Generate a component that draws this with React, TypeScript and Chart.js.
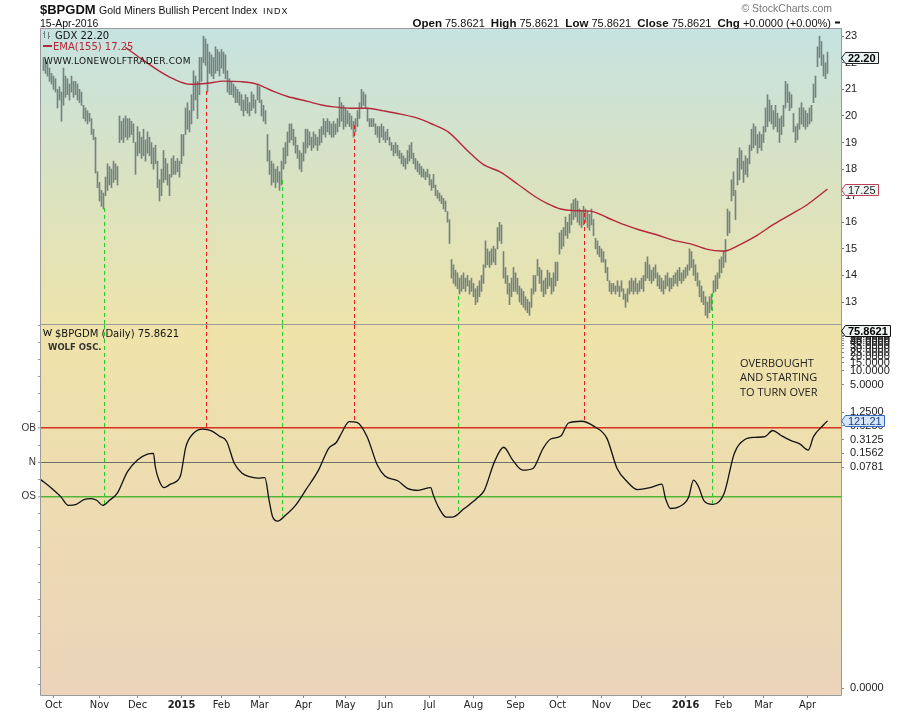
import React, { useEffect, useRef } from "react";
import { Chart, registerables } from "chart.js";

Chart.register(...registerables);

const SANS = "'Liberation Sans', Arial, Helvetica, sans-serif";
const VERD = "'DejaVu Sans', Verdana, sans-serif";
const NARROW = "'Liberation Sans Narrow', 'DejaVu Sans Condensed', 'Liberation Sans', sans-serif";

// ---------- calendar ----------
const FIRST_DAY = "2014-09-24";
const LAST_DAY = "2016-04-15";
const HOLIDAYS = [
  "2014-11-27", "2014-12-25", "2015-01-01", "2015-01-19", "2015-02-16", "2015-04-03",
  "2015-05-25", "2015-07-03", "2015-09-07", "2015-11-26", "2015-12-25", "2016-01-01",
  "2016-01-18", "2016-02-15", "2016-03-25",
];
const MONTH_NAMES = ["Jan", "Feb", "Mar", "Apr", "May", "Jun", "Jul", "Aug", "Sep", "Oct", "Nov", "Dec"];

// ---------- GDX daily bars (low / high) ----------
const gdxLow = [
  21.7, 21.6, 21.5, 21.3, 21.2, 21.0, 20.9, 20.3, 20.6, 19.8,
  20.4, 20.7, 20.8, 20.6, 20.9, 20.7, 20.8, 20.6, 20.5, 20.4,
  19.9, 19.8, 19.7, 19.8, 19.3, 19.1, 17.85, 17.3, 16.8, 16.6,
  16.5, 17.0, 17.2, 17.4, 17.3, 17.5, 17.6, 17.4, 19.0, 19.1,
  19.0, 19.2, 19.1, 19.2, 19.3, 19.0, 17.8, 18.5, 18.6, 18.4,
  18.5, 18.3, 18.6, 18.5, 18.2, 18.0, 18.2, 17.3, 16.8, 17.0,
  17.5, 17.6, 17.4, 17.0, 17.7, 17.8, 17.8, 17.9, 17.7, 18.2,
  18.5, 19.3, 19.5, 19.4, 19.7, 20.2, 20.6, 19.9, 20.8, 21.3,
  22.0, 21.9, 20.9, 21.6, 21.5, 21.4, 21.6, 21.7, 21.5, 21.8,
  21.6, 21.4, 20.9, 20.8, 20.8, 20.7, 20.5, 20.5, 20.4, 20.2,
  20.0, 20.2, 20.1, 20.0, 20.2, 20.3, 20.1, 20.6, 20.5, 20.0,
  19.8, 19.7, 18.3, 17.8, 17.4, 17.5, 17.3, 17.5, 17.2, 17.4,
  18.0, 18.2, 18.5, 19.0, 19.1, 18.9, 18.6, 18.4, 18.0, 17.9,
  18.3, 18.6, 18.8, 18.9, 18.7, 18.8, 18.9, 18.7, 18.9, 19.0,
  19.3, 19.2, 19.4, 19.3, 19.2, 19.2, 19.3, 19.4, 19.6, 19.8,
  19.5, 19.6, 19.7, 19.6, 19.5, 19.2, 19.4, 19.6, 19.9, 20.3,
  20.4, 20.3, 19.8, 19.6, 19.6, 19.6, 19.3, 19.2, 19.0, 19.2,
  19.1, 19.0, 19.1, 18.9, 18.7, 18.5, 18.6, 18.5, 18.4, 18.2,
  18.1, 18.0, 18.2, 18.3, 18.4, 18.2, 18.0, 17.9, 17.8, 17.7,
  17.7, 17.6, 17.7, 17.4, 17.2, 17.3, 17.0, 16.9, 16.8, 16.7,
  16.5, 16.4, 16.0, 15.2, 13.9, 13.7, 13.6, 13.5, 13.3, 13.4,
  13.5, 13.4, 13.6, 13.3, 13.4, 13.2, 12.9, 13.0, 13.2, 13.4,
  13.7, 14.3, 14.4, 14.3, 14.4, 14.5, 14.4, 15.0, 15.3, 15.2,
  13.9, 13.7, 13.3, 12.9, 13.2, 13.4, 13.4, 13.3, 13.0, 12.9,
  12.8, 12.7, 12.6, 12.5, 12.8, 13.3, 13.4, 14.0, 13.7, 13.4,
  13.2, 13.3, 13.5, 13.6, 13.3, 13.4, 13.6, 13.8, 14.8, 15.0,
  15.1, 15.5, 15.4, 15.6, 15.9, 16.1, 16.2, 16.0, 15.9, 15.8,
  15.9, 16.0, 15.8, 15.7, 15.9, 15.5, 15.0, 14.8, 14.7, 14.5,
  14.5, 14.1, 13.8, 13.4, 13.3, 13.4, 13.3, 13.4, 13.2, 13.4,
  13.1, 12.8, 13.0, 13.3, 13.4, 13.3, 13.4, 13.3, 13.4, 13.5,
  13.4, 13.8, 13.9, 13.8, 13.7, 13.8, 13.9, 13.6, 13.5, 13.4,
  13.3, 13.5, 13.6, 13.4, 13.5, 13.6, 13.7, 13.6, 13.8, 13.7,
  13.8, 13.9, 14.0, 14.2, 14.3, 14.0, 13.8, 13.6, 13.2, 13.0,
  12.9, 12.5, 12.4, 12.6, 12.7, 13.35, 13.4, 13.5, 13.9, 14.1,
  14.3, 14.5, 15.5, 15.6, 16.8, 17.0, 16.1, 17.4, 17.6, 18.0,
  17.5, 17.8, 17.7, 18.2, 18.7, 18.8, 18.9, 18.6, 18.8, 18.7,
  19.0, 19.4, 19.6, 19.8, 19.7, 19.5, 19.6, 19.4, 19.0, 19.3,
  19.6, 20.3, 20.5, 20.2, 20.3, 19.4, 19.0, 19.1, 19.5, 19.7,
  19.6, 19.5, 19.6, 19.7, 19.8, 20.5, 20.7, 21.85, 22.2, 21.9,
  21.5, 21.4, 21.6,
];
const gdxHigh = [
  22.2, 22.1, 22.0, 21.8, 21.6, 21.5, 21.4, 21.0, 21.1, 20.9,
  21.8, 21.5, 21.4, 21.2, 21.5, 21.3, 21.3, 21.2, 21.0, 20.9,
  20.4, 20.3, 20.2, 20.1, 19.9, 19.5, 19.2, 17.9, 17.5, 17.2,
  17.1, 17.7, 18.2, 18.1, 18.0, 18.3, 18.2, 18.1, 20.0, 19.8,
  19.9, 20.0, 19.9, 19.9, 19.8, 19.7, 19.0, 19.6, 19.4, 19.2,
  19.5, 19.1, 19.4, 19.2, 19.0, 18.8, 18.9, 18.3, 17.6, 18.0,
  18.7, 18.4, 18.2, 17.8, 18.4, 18.5, 18.3, 18.4, 18.3, 19.3,
  19.3, 20.3, 20.5, 20.2, 20.8, 21.7, 21.5, 21.3, 22.2, 22.2,
  23.0, 22.9, 22.7, 22.4, 22.3, 22.2, 22.6, 22.5, 22.4, 22.5,
  22.4, 22.3, 21.7, 21.4, 21.3, 21.2, 21.1, 21.0, 20.9, 20.8,
  20.6, 20.8, 20.7, 20.5, 20.9, 20.8, 20.6, 21.2, 21.1, 20.6,
  20.4, 20.2, 19.3, 18.7, 18.3, 18.2, 18.0, 18.1, 17.9, 18.3,
  18.8, 19.0, 19.4, 19.7, 19.7, 19.5, 19.2, 18.9, 18.7, 18.6,
  19.0, 19.5, 19.5, 19.4, 19.2, 19.4, 19.3, 19.2, 19.5, 19.6,
  19.9, 19.8, 19.9, 19.8, 19.7, 19.8, 19.7, 19.9, 20.7, 20.5,
  20.4, 20.3, 20.2, 20.1, 20.0, 19.8, 19.9, 20.2, 20.5, 21.0,
  20.9, 20.8, 20.3, 19.9, 19.9, 19.9, 19.7, 19.6, 19.6, 19.7,
  19.6, 19.4, 19.5, 19.2, 19.0, 18.9, 19.0, 18.9, 18.7, 18.6,
  18.5, 18.4, 18.7, 18.9, 19.0, 18.6, 18.4, 18.3, 18.2, 18.1,
  18.0, 17.9, 18.0, 17.8, 17.6, 17.8, 17.4, 17.2, 17.1, 17.0,
  16.9, 16.8, 16.4, 16.1, 14.6, 14.4, 14.2, 14.1, 13.9, 14.0,
  14.1, 13.9, 14.0, 13.8, 13.9, 13.7, 13.5, 13.6, 13.8, 14.0,
  14.4, 15.3, 15.0, 14.9, 15.0, 15.1, 15.0, 15.8, 16.0, 15.9,
  14.9, 14.3, 14.0, 13.7, 13.9, 14.3, 14.1, 13.9, 13.6, 13.5,
  13.4, 13.2, 13.1, 13.0, 13.5, 14.0, 14.0, 14.6, 14.3, 14.2,
  13.8, 13.9, 14.2, 14.1, 13.9, 14.1, 14.5, 14.5, 15.6, 15.7,
  15.8, 16.2, 16.0, 16.3, 16.7, 16.85, 16.9, 16.8, 16.5, 16.4,
  16.6, 16.5, 16.4, 16.3, 16.5, 16.1, 15.4, 15.3, 15.1, 15.0,
  14.9, 14.6, 14.3, 13.8, 13.7, 13.7, 13.6, 13.8, 13.6, 13.8,
  13.5, 13.3, 13.5, 13.8, 13.9, 13.8, 13.9, 13.7, 13.8, 13.9,
  14.0, 14.5, 14.7, 14.4, 14.2, 14.3, 14.4, 14.1, 14.0, 13.9,
  13.8, 14.0, 14.1, 13.9, 13.9, 14.0, 14.1, 14.2, 14.3, 14.1,
  14.2, 14.3, 14.4, 15.0, 14.9, 14.6, 14.4, 14.1, 13.8, 13.6,
  13.4, 13.2, 13.0, 13.2, 13.3, 13.8, 14.0, 14.1, 14.6, 14.7,
  14.9, 15.35, 16.5, 16.4, 17.6, 17.9, 17.2, 18.4, 18.8, 18.7,
  18.3, 18.5, 18.4, 18.9, 19.5, 19.7, 19.6, 19.3, 19.4, 19.3,
  19.6, 20.3, 20.8, 20.6, 20.4, 20.2, 20.4, 20.1, 19.9, 20.0,
  20.4, 21.3, 21.2, 20.9, 20.8, 20.1, 19.6, 19.7, 20.3, 20.5,
  20.3, 20.2, 20.1, 20.3, 20.4, 21.2, 21.5, 22.6, 23.0, 22.8,
  22.3, 22.0, 22.4,
];

// ---------- EMA(155) (bar index, value) ----------
const emaIdx = [41, 48.5, 57, 65, 73.5, 82, 90, 98.5, 107, 115, 122, 132, 139, 145, 153.5, 162, 170, 178.5, 187, 195, 202.5, 211.5, 220, 228.5, 237, 245.5, 252, 258.5, 265, 273.5, 282, 290, 298.5, 307, 315, 323.5, 332, 339, 342, 348.5, 357, 365, 373.5, 382, 392];
const emaVal = [22.58, 22.17, 21.73, 21.39, 21.19, 21.23, 21.31, 21.29, 21.19, 20.92, 20.73, 20.55, 20.41, 20.34, 20.29, 20.29, 20.19, 20.07, 19.92, 19.67, 19.39, 18.73, 18.17, 17.89, 17.44, 16.98, 16.7, 16.5, 16.44, 16.42, 16.17, 15.92, 15.7, 15.52, 15.32, 15.19, 14.98, 14.92, 14.94, 15.17, 15.52, 15.92, 16.29, 16.67, 17.25];

// ---------- WOLF oscillator (bar index, value; OB = 100, N = 0, OS = -100) ----------
const oscIdx = [-1.5, 3.6, 8.7, 12.5, 16.4, 20.2, 24, 26.6, 29.6, 33, 36.8, 42, 47, 52, 55, 55.9, 57.7, 60.2, 63.5, 66.9, 68.6, 71.2, 75, 79.6, 84, 87.8, 91.6, 95.4, 99.3, 103, 107, 110.7, 112.8, 114.6, 117.1, 121, 126, 131, 137.5, 142.6, 146.4, 149, 152.8, 156.7, 161.8, 166.9, 170.7, 177.1, 182.2, 187.3, 193.6, 194.9, 197.5, 201.3, 204.6, 210.2, 216.6, 220.4, 225.5, 230.1, 234.5, 239.6, 244.7, 249.8, 253.6, 258.7, 262.5, 268.9, 275.3, 281.7, 286.8, 291.9, 297, 303.3, 309.2, 311, 313.5, 317.4, 322.5, 325, 327.6, 330.1, 334.7, 340.3, 345.4, 350.5, 355.6, 360.7, 364.6, 368.4, 373.5, 378.1, 382.4, 385, 390.1, 392];
const oscVal = [-50, -74, -101, -126, -123, -109, -106, -111, -126, -111, -91, -27, 7, 24, 26, -13, -52, -74, -64, -54, -37, 46, 85, 97, 92, 77, 61, -3, -32, -42, -46, -45, -111, -160, -172, -155, -126, -82, -23, 41, 58, 85, 119, 117, 75, -8, -40, -54, -77, -82, -74, -96, -131, -160, -160, -136, -106, -82, 2, 44, 7, -23, -18, 41, 68, 77, 115, 120, 105, 70, -18, -57, -80, -74, -64, -106, -135, -131, -103, -52, -72, -111, -123, -91, 26, 66, 73, 75, 93, 80, 64, 54, 36, 75, 110, 121.21];
const oscLevels = [100, 0, -100];
const oscLevelLabels = ["OB", "N", "OS"];

// ---------- analyst's dashed turning-point lines ----------
const annIdx = [30, 81.5, 119.5, 155.7, 207.7, 270.7, 334.7];
const annPrice = [16.52, 20.95, 17.6, 19.66, 13.23, 16.35, 13.35];
const annOsc = [-126, 97, -158, 119, -145, 119, -121];
const annKind = ["low", "high", "low", "high", "low", "high", "low"];

// ---------- axis tick values ----------
const priceTicks = [13, 14, 15, 16, 17, 18, 19, 20, 21, 22, 23];
const bpTicks = [0.00000113, 0.078125, 0.15625, 0.3125, 0.625, 1.25, 5, 10, 15, 20, 25, 30, 35, 40, 45, 50, 55, 60, 65, 70];

// ---------- last values / header ----------
const symbol = "$BPGDM";
const title = "Gold Miners Bullish Percent Index";
const exch = "INDX";
const asOf = "15-Apr-2016";
const ohlc = { open: "75.8621", high: "75.8621", low: "75.8621", close: "75.8621", chg: "+0.0000 (+0.00%)" };
const lastGdx = 22.2;
const lastEma = 17.25;
const lastBp = 75.8621;
const lastOsc = 121.21;
const noteLines = ["OVERBOUGHT", "AND STARTING", "TO TURN OVER"];

// ---------- layout ----------
const W = 900;
const TOP_H = 325;
const BOT_H = 387;
const X_MIN = -1.25;
const X_MAX = 398.75;

const RED_DASH = "rgb(230,30,30)";
const GREEN_DASH = "rgb(40,205,40)";
const BORDER = "#9a9a9a";

function tradingDays(): Date[] {
  const out: Date[] = [];
  const d = new Date(FIRST_DAY + "T00:00:00Z");
  const end = new Date(LAST_DAY + "T00:00:00Z");
  while (d.getTime() <= end.getTime()) {
    const wd = d.getUTCDay();
    const iso = d.toISOString().slice(0, 10);
    if (wd !== 0 && wd !== 6 && !HOLIDAYS.includes(iso)) out.push(new Date(d.getTime()));
    d.setUTCDate(d.getUTCDate() + 1);
  }
  return out;
}

const days = tradingDays();
const monthStarts: number[] = [];
const monthLabels: string[] = [];
const monthBold: boolean[] = [];
days.forEach((d, i) => {
  if (i > 0 && d.getUTCMonth() !== days[i - 1].getUTCMonth()) {
    monthStarts.push(i);
    const m = d.getUTCMonth();
    monthLabels.push(m === 0 ? String(d.getUTCFullYear()) : MONTH_NAMES[m]);
    monthBold.push(m === 0);
  }
});

function drawTag(ctx: CanvasRenderingContext2D, x: number, y: number, text: string, fill: string, stroke: string, color: string, bold: boolean) {
  ctx.save();
  ctx.font = `${bold ? "bold " : ""}11px ${SANS}`;
  const w = Math.ceil(ctx.measureText(text).width) + 5;
  const h = 11;
  const t = Math.round(y - h / 2) + 0.5;
  const b = t + h;
  const x0 = x + 0.5;
  const x1 = x0 + 4;
  const x2 = x1 + w;
  ctx.beginPath();
  ctx.moveTo(x0, (t + b) / 2);
  ctx.lineTo(x1, t);
  ctx.lineTo(x2, t);
  ctx.lineTo(x2, b);
  ctx.lineTo(x1, b);
  ctx.closePath();
  ctx.fillStyle = fill;
  ctx.fill();
  ctx.strokeStyle = stroke;
  ctx.lineWidth = 1;
  ctx.stroke();
  ctx.fillStyle = color;
  ctx.textBaseline = "middle";
  ctx.textAlign = "left";
  ctx.fillText(text, x1 + 2.5, (t + b) / 2 + 0.5);
  ctx.restore();
}

function dashed(ctx: CanvasRenderingContext2D, x: number, y0: number, y1: number, color: string) {
  ctx.save();
  ctx.fillStyle = color;
  const xi = 2 * Math.round(x / 2);
  const a = Math.min(y0, y1);
  const b = Math.max(y0, y1);
  for (let y = Math.round(a); y < b; y += 7) {
    ctx.fillRect(xi, y, 1, Math.min(4, b - y));
  }
  ctx.restore();
}

const topDeco = {
  id: "topDeco",
  beforeDraw(chart: any) {
    const { ctx, chartArea: a } = chart;
    ctx.save();
    ctx.fillStyle = "#ffffff";
    ctx.fillRect(0, 0, chart.width, chart.height);
    const g = ctx.createLinearGradient(0, a.top, 0, a.bottom);
    g.addColorStop(0, "#c6e3e1");
    g.addColorStop(0.5, "#d9e2c2");
    g.addColorStop(1, "#ede4ab");
    ctx.fillStyle = g;
    ctx.fillRect(a.left, a.top, a.right - a.left, a.bottom - a.top);
    ctx.restore();
  },
  afterDatasetsDraw(chart: any) {
    const { ctx, chartArea: a, scales } = chart;
    annIdx.forEach((idx, k) => {
      const x = scales.x.getPixelForValue(idx);
      const y = scales.y.getPixelForValue(annPrice[k]);
      dashed(ctx, x, y, a.bottom, annKind[k] === "high" ? RED_DASH : GREEN_DASH);
    });
  },
  afterDraw(chart: any) {
    const { ctx, chartArea: a, scales } = chart;
    ctx.save();
    // frame
    ctx.strokeStyle = BORDER;
    ctx.lineWidth = 1;
    ctx.strokeRect(a.left - 0.5, a.top - 0.5, a.right - a.left + 1, a.bottom - a.top);

    // header
    ctx.fillStyle = "#111";
    ctx.textBaseline = "alphabetic";
    ctx.textAlign = "left";
    ctx.font = `bold 13px ${SANS}`;
    ctx.fillText(symbol, 40, 14);
    ctx.font = `10.5px ${SANS}`;
    ctx.fillText(title, 99, 13.5);
    ctx.font = `9px ${SANS}`;
    (ctx as any).letterSpacing = "1px";
    ctx.fillText(exch, 263, 13.5);
    (ctx as any).letterSpacing = "0px";
    ctx.font = `10.5px ${SANS}`;
    ctx.fillText(asOf, 40, 26.5);

    ctx.fillStyle = "#777";
    ctx.font = `10.5px ${SANS}`;
    ctx.textAlign = "right";
    ctx.fillText("\u00A9 StockCharts.com", 832, 12);

    const segs: [string, boolean][] = [
      ["Open", true], [" " + ohlc.open + "  ", false],
      ["High", true], [" " + ohlc.high + "  ", false],
      ["Low", true], [" " + ohlc.low + "  ", false],
      ["Close", true], [" " + ohlc.close + "  ", false],
      ["Chg", true], [" " + ohlc.chg, false],
    ];
    const fontFor = (b: boolean) => (b ? `bold 11.5px ${SANS}` : `11px ${SANS}`);
    let total = 0;
    segs.forEach(([t, b]) => { ctx.font = fontFor(b); total += ctx.measureText(t).width; });
    let x = 831 - total;
    ctx.textAlign = "left";
    ctx.fillStyle = "#111";
    segs.forEach(([t, b]) => { ctx.font = fontFor(b); ctx.fillText(t, x, 26.5); x += ctx.measureText(t).width; });
    ctx.fillRect(835, 21.5, 5, 2);

    // legend
    ctx.strokeStyle = "#6f8080";
    ctx.lineWidth = 1;
    ctx.beginPath();
    ctx.moveTo(44.5, 31); ctx.lineTo(44.5, 38);
    ctx.moveTo(43, 33.5); ctx.lineTo(44.5, 33.5);
    ctx.moveTo(48.5, 32); ctx.lineTo(48.5, 39);
    ctx.moveTo(48.5, 36.5); ctx.lineTo(50, 36.5);
    ctx.stroke();
    ctx.fillStyle = "#111";
    ctx.font = `10px ${VERD}`;
    ctx.fillText("GDX " + lastGdx.toFixed(2), 55, 38.5);
    ctx.fillStyle = "#b3283a";
    ctx.fillRect(43, 45, 9, 2);
    ctx.fillText("EMA(155) " + lastEma.toFixed(2), 53, 49.5);
    ctx.fillStyle = "#111";
    ctx.font = `9px ${VERD}`;
    const site = "WWW.LONEWOLFTRADER.COM";
    const sw = ctx.measureText(site).width;
    (ctx as any).letterSpacing = `${Math.max(0, (147 - sw) / site.length).toFixed(2)}px`;
    ctx.fillText(site, 44, 64);
    (ctx as any).letterSpacing = "0px";

    // value tags
    drawTag(ctx, a.right, scales.y.getPixelForValue(lastGdx), lastGdx.toFixed(2), "#e9f5f5", "#222", "#000", true);
    drawTag(ctx, a.right, scales.y.getPixelForValue(lastEma), lastEma.toFixed(2), "#eef6f4", "#c0405a", "#222", false);
    ctx.restore();
  },
};

const botDeco = {
  id: "botDeco",
  beforeDraw(chart: any) {
    const { ctx, chartArea: a } = chart;
    ctx.save();
    ctx.fillStyle = "#ffffff";
    ctx.fillRect(0, 0, chart.width, chart.height);
    const g = ctx.createLinearGradient(0, a.top, 0, a.bottom);
    g.addColorStop(0, "#efe3a9");
    g.addColorStop(1, "#ebd4ba");
    ctx.fillStyle = g;
    ctx.fillRect(a.left, a.top, a.right - a.left, a.bottom - a.top);
    ctx.restore();
  },
  afterDatasetsDraw(chart: any) {
    const { ctx, chartArea: a, scales } = chart;
    annIdx.forEach((idx, k) => {
      const x = scales.x.getPixelForValue(idx);
      const y = scales.yOsc.getPixelForValue(annOsc[k]);
      dashed(ctx, x, a.top, y, annKind[k] === "high" ? RED_DASH : GREEN_DASH);
    });
  },
  afterDraw(chart: any) {
    const { ctx, chartArea: a, scales } = chart;
    ctx.save();
    ctx.strokeStyle = BORDER;
    ctx.lineWidth = 1;
    ctx.beginPath();
    ctx.moveTo(a.left - 0.5, a.top);
    ctx.lineTo(a.left - 0.5, a.bottom + 0.5);
    ctx.lineTo(a.right + 0.5, a.bottom + 0.5);
    ctx.lineTo(a.right + 0.5, a.top);
    ctx.stroke();

    // legend
    ctx.strokeStyle = "#111";
    ctx.lineWidth = 1;
    ctx.beginPath();
    ctx.moveTo(43.5, 4); ctx.lineTo(45.5, 11); ctx.lineTo(47.5, 5); ctx.lineTo(49.5, 11); ctx.lineTo(51.5, 4);
    ctx.stroke();
    ctx.fillStyle = "#111";
    ctx.textAlign = "left";
    ctx.textBaseline = "alphabetic";
    ctx.font = `10px ${VERD}`;
    ctx.fillText(`${symbol} (Daily) ${lastBp.toFixed(4)}`, 55, 11.5);
    ctx.fillStyle = "#333";
    ctx.font = `bold 8.5px ${VERD}`;
    ctx.fillText("WOLF OSC.", 48, 25);

    // note
    ctx.fillStyle = "#222";
    ctx.font = `11px 'Open Sans', ${SANS}`;
    ctx.textBaseline = "middle";
    noteLines.forEach((t, k) => ctx.fillText(t, 740, 38.5 + k * 14.7));

    // value tags
    drawTag(ctx, a.right, scales.yBp.getPixelForValue(lastBp), lastBp.toFixed(4), "#eef4f2", "#111", "#000", true);
    drawTag(ctx, a.right, scales.yOsc.getPixelForValue(lastOsc), lastOsc.toFixed(2), "#d7e6f6", "#3a66c4", "#1a3a8a", false);
    ctx.restore();
  },
};

const zeroPad = (s: any) => { s.paddingTop = 0; s.paddingBottom = 0; s.paddingLeft = 0; s.paddingRight = 0; };

export default function App() {
  const topRef = useRef<HTMLCanvasElement>(null);
  const botRef = useRef<HTMLCanvasElement>(null);

  useEffect(() => {
    const top = new Chart(topRef.current as HTMLCanvasElement, {
      type: "bar",
      data: {
        datasets: [
          {
            type: "line",
            data: emaIdx.map((x, k) => ({ x, y: emaVal[k] })),
            borderColor: "#b3283a",
            borderWidth: 1.4,
            pointRadius: 0,
            cubicInterpolationMode: "monotone",
            order: 0,
          } as any,
          {
            type: "bar",
            data: gdxLow.map((lo, i) => ({ x: i, y: [lo, gdxHigh[i]] })),
            backgroundColor: "#75827f",
            borderWidth: 0,
            barThickness: 1,
            order: 1,
          } as any,
        ],
      },
      options: {
        animation: false,
        responsive: false,
        events: [],
        layout: { padding: { top: 29, left: 41, right: 0, bottom: 0 } },
        plugins: { legend: { display: false }, tooltip: { enabled: false } },
        scales: {
          x: { type: "linear", min: X_MIN, max: X_MAX, offset: false, display: false },
          y: {
            position: "right",
            min: 12.136,
            max: 23.27,
            afterBuildTicks: (s: any) => { s.ticks = priceTicks.map((v) => ({ value: v })); },
            afterFit: (s: any) => { s.width = 59; zeroPad(s); },
            grid: { drawOnChartArea: false, drawTicks: true, tickLength: 3, color: "#777" },
            border: { display: false },
            ticks: { padding: 1, color: "#222", autoSkip: false, font: { size: 11, family: SANS } },
          },
        },
      } as any,
      plugins: [topDeco],
    });

    const bot = new Chart(botRef.current as HTMLCanvasElement, {
      type: "line",
      data: {
        datasets: [
          {
            data: oscIdx.map((x, k) => ({ x, y: oscVal[k] })),
            yAxisID: "yOsc",
            borderColor: "#111",
            borderWidth: 1.3,
            pointRadius: 0,
            cubicInterpolationMode: "monotone",
          } as any,
        ],
      },
      options: {
        animation: false,
        responsive: false,
        events: [],
        layout: { padding: 0 },
        plugins: { legend: { display: false }, tooltip: { enabled: false } },
        scales: {
          x: {
            type: "linear",
            min: X_MIN,
            max: X_MAX,
            offset: false,
            position: "bottom",
            afterBuildTicks: (s: any) => { s.ticks = monthStarts.map((v) => ({ value: v })); },
            afterFit: (s: any) => { s.height = 17; zeroPad(s); },
            grid: { drawOnChartArea: false, drawTicks: true, tickLength: 3, color: "#888" },
            border: { display: false },
            ticks: {
              autoSkip: false,
              maxRotation: 0,
              padding: 1,
              color: "#222",
              font: (c: any) => {
                const k = monthStarts.indexOf(c.tick ? c.tick.value : -1);
                return { size: 11, family: NARROW, weight: k >= 0 && monthBold[k] ? "bold" : "normal" };
              },
              callback: (v: any) => {
                const k = monthStarts.indexOf(v);
                return k >= 0 ? monthLabels[k] : "";
              },
            },
          },
          yOsc: {
            position: "left",
            min: -680.4,
            max: 401.5,
            afterBuildTicks: (s: any) => {
              const t: any[] = [];
              for (let v = -650; v <= 400; v += 50) t.push({ value: v });
              s.ticks = t;
            },
            afterFit: (s: any) => { s.width = 41; zeroPad(s); },
            grid: {
              drawOnChartArea: true,
              drawTicks: true,
              tickLength: 3,
              color: (c: any) => {
                const v = c.tick ? c.tick.value : NaN;
                return v === 100 ? "#d8321e" : v === 0 ? "#6c6c6c" : v === -100 ? "#52b535" : "rgba(0,0,0,0)";
              },
              lineWidth: (c: any) => (c.tick && (c.tick.value === 100 || c.tick.value === -100) ? 1.6 : 1),
              tickColor: "#999",
              tickWidth: 1,
            },
            border: { display: false },
            ticks: {
              autoSkip: false,
              padding: 2,
              color: "#333",
              font: { size: 10, family: SANS },
              callback: (v: any) => {
                const k = oscLevels.indexOf(v);
                return k >= 0 ? oscLevelLabels[k] : "";
              },
            },
          },
          yBp: {
            type: "logarithmic",
            position: "right",
            min: 7.97e-7,
            max: 100.4,
            afterBuildTicks: (s: any) => { s.ticks = bpTicks.map((v) => ({ value: v })); },
            afterFit: (s: any) => { s.width = 59; zeroPad(s); },
            grid: { drawOnChartArea: false, drawTicks: true, tickLength: 3, color: "#888" },
            border: { display: false },
            ticks: {
              autoSkip: false,
              padding: 6,
              color: "#222",
              font: { size: 11, family: SANS },
              callback: (v: any) => (Math.floor(Number(v) * 1e4 + 1e-9) / 1e4).toFixed(4),
            },
          },
        },
      } as any,
      plugins: [botDeco],
    });

    return () => {
      top.destroy();
      bot.destroy();
    };
  }, []);

  return (
    <div style={{ position: "absolute", left: 0, top: 0, width: W, height: TOP_H + BOT_H, background: "#fff" }}>
      <canvas ref={topRef} width={W} height={TOP_H} style={{ position: "absolute", left: 0, top: 0, width: W, height: TOP_H }} />
      <canvas ref={botRef} width={W} height={BOT_H} style={{ position: "absolute", left: 0, top: TOP_H, width: W, height: BOT_H }} />
    </div>
  );
}
